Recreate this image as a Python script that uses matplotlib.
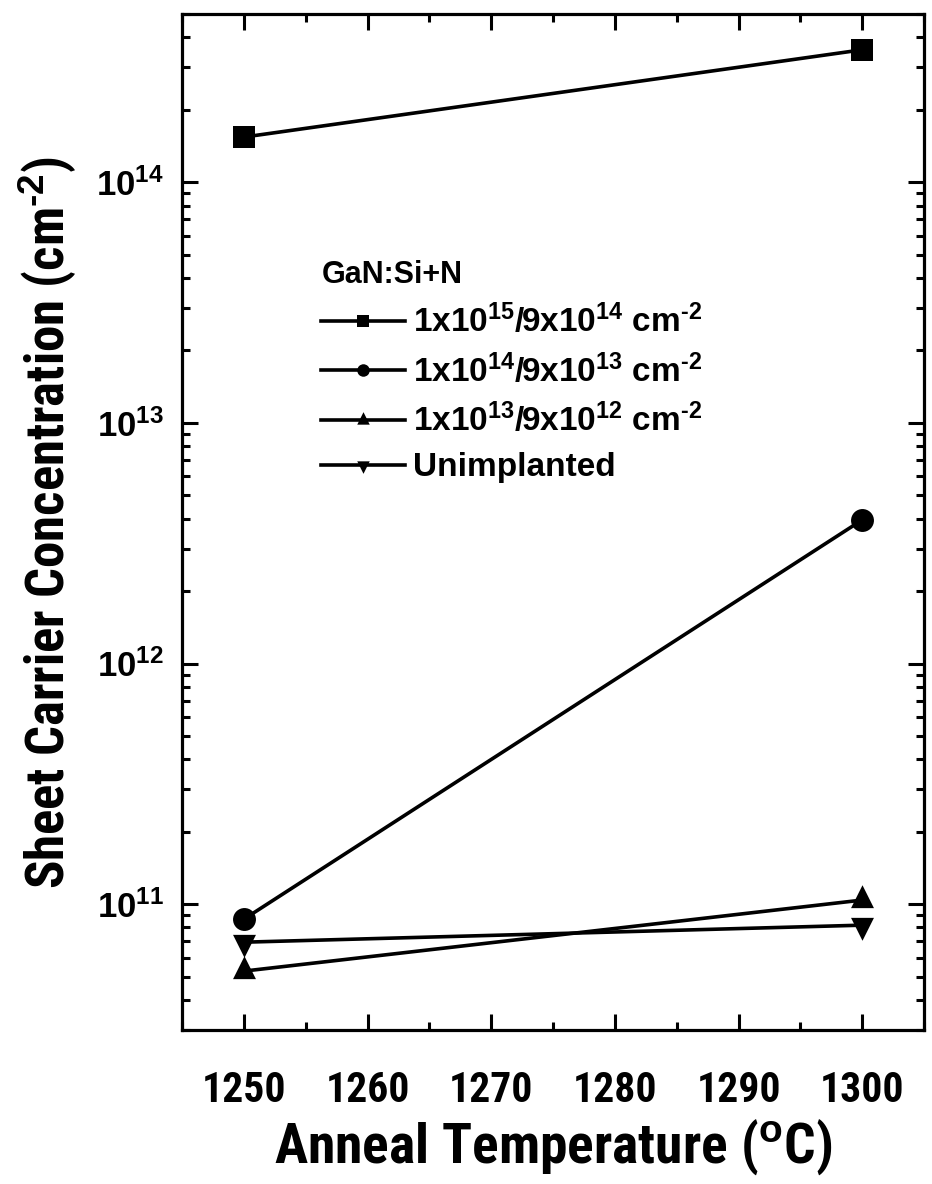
import math
import matplotlib
matplotlib.use("Agg")
import matplotlib.pyplot as plt
from matplotlib import font_manager as fm
from matplotlib.lines import Line2D
from matplotlib.ticker import MultipleLocator, LogLocator, FixedLocator, FuncFormatter, NullFormatter

# ---- data ----
temps = [1250, 1300]
series_labels = [
    r"1x10$^{15}$/9x10$^{14}$ cm$^{‐2}$",
    r"1x10$^{14}$/9x10$^{13}$ cm$^{‐2}$",
    r"1x10$^{13}$/9x10$^{12}$ cm$^{‐2}$",
    "Unimplanted",
]
dose_1e15 = [1.54e14, 3.55e14]
dose_1e14 = [8.66e10, 3.95e12]
dose_1e13 = [5.27e10, 1.04e11]
unimplanted = [6.95e10, 8.18e10]
legend_title = "GaN:Si+N"
xlabel = "Anneal Temperature ($^{o}$C)"
ylabel = "Sheet Carrier Concentration (cm$^{‐2}$)"
xticks = [1250, 1260, 1270, 1280, 1290, 1300]
yticks = [1e11, 1e12, 1e13, 1e14]

# triangle markers centred on their centroid (as in the original software)
tri_up = [(0, 1.0), (-0.75, -0.5), (0.75, -0.5), (0, 1.0)]
tri_down = [(0, -1.0), (-0.75, 0.5), (0.75, 0.5), (0, -1.0)]
markers = ["s", "o", tri_up, tri_down]
msizes = [16, 16.5, 22, 22]
leg_msizes = [9, 9, 12, 12]

plt.rcParams["font.family"] = ["Liberation Sans", "DejaVu Sans"]
plt.rcParams["font.weight"] = "bold"
plt.rcParams["mathtext.fontset"] = "custom"
plt.rcParams["mathtext.rm"] = "Liberation Sans:bold"
plt.rcParams["mathtext.it"] = "Liberation Sans:bold"
plt.rcParams["mathtext.bf"] = "Liberation Sans:bold"
plt.rcParams["mathtext.default"] = "rm"


def _wnum(w):
    if isinstance(w, (int, float)):
        return w
    return {"bold": 700, "heavy": 800, "black": 900, "semibold": 600,
            "demibold": 600, "extra bold": 800}.get(str(w).lower(), 400)


def find_narrow():
    prefs = ["liberation sans narrow", "arial narrow", "roboto condensed",
             "open sans condensed", "noto sans condensed", "noto sans",
             "open sans", "roboto", "inter"]
    best = None
    for f in fm.fontManager.ttflist:
        name = f.name.lower()
        stretch = f.stretch
        condensed = ("narrow" in name or "condensed" in name or
                     (isinstance(stretch, str) and "condensed" in stretch) or
                     (isinstance(stretch, (int, float)) and stretch < 500))
        if not condensed or f.style != "normal":
            continue
        if not (650 <= _wnum(f.weight) <= 750):
            continue
        rank = None
        for i, p in enumerate(prefs):
            if name.startswith(p):
                rank = i
                break
        if rank is None:
            continue
        if best is None or rank < best[0]:
            best = (rank, f.fname)
    return best[1] if best else None


narrow_file = find_narrow()
if narrow_file:
    def nprop(size):
        return fm.FontProperties(fname=narrow_file, size=size)
    xt_size, xl_size, yl_size = 30, 40, 38
else:
    def nprop(size):
        return fm.FontProperties(family="Liberation Sans", weight="bold", size=size)
    xt_size, xl_size, yl_size = 26, 34, 32

fig = plt.figure(figsize=(9.32, 11.84), dpi=100)
ax = fig.add_axes([182/932, 1 - 1030/1184, (924-182)/932, (1030-14)/1184])

all_series = [dose_1e15, dose_1e14, dose_1e13, unimplanted]
for vals, m, ms in zip(all_series, markers, msizes):
    ax.plot(temps, vals, color="black", lw=2.6, marker=m, markersize=ms,
            markeredgewidth=0, markerfacecolor="black", solid_capstyle="round")

ax.set_yscale("log")
ax.set_xlim(1245, 1305)
ax.set_ylim(3e10, 5e14)

ax.xaxis.set_major_locator(FixedLocator(xticks))
ax.xaxis.set_minor_locator(MultipleLocator(5))
ax.yaxis.set_major_locator(FixedLocator(yticks))
ax.yaxis.set_minor_locator(LogLocator(base=10, subs=range(2, 10)))
ax.yaxis.set_minor_formatter(NullFormatter())
ax.yaxis.set_major_formatter(FuncFormatter(lambda v, p: r"$\mathbf{10^{%d}}$" % round(math.log10(v))))

for sp in ax.spines.values():
    sp.set_linewidth(2.3)

ax.tick_params(which="both", direction="in", top=True, right=True, width=2.2)
ax.tick_params(which="major", length=11.5)
ax.tick_params(which="minor", length=6)
ax.tick_params(axis="x", which="major", pad=29)
ax.tick_params(axis="y", which="major", pad=13, labelsize=25)

for lab in ax.get_xticklabels():
    lab.set_fontproperties(nprop(xt_size))

ax.set_xlabel(xlabel, fontproperties=nprop(xl_size), labelpad=4)
ax.set_ylabel(ylabel, fontproperties=nprop(yl_size), labelpad=12)

handles = [Line2D([], [], color="black", lw=2.6, marker=m, markersize=ms,
                  markeredgewidth=0) for m, ms in zip(markers, leg_msizes)]
leg = ax.legend(handles, series_labels, title=legend_title, loc="upper left",
                bbox_to_anchor=(0.188, 0.758), frameon=False, fontsize=24,
                title_fontsize=22, handlelength=2.5, handletextpad=0.25,
                labelspacing=0.42, borderaxespad=0, borderpad=0,
                alignment="left")
leg.get_title().set_fontweight("bold")
for t in leg.get_texts():
    t.set_fontweight("bold")

fig.savefig("out.png", dpi=100)
